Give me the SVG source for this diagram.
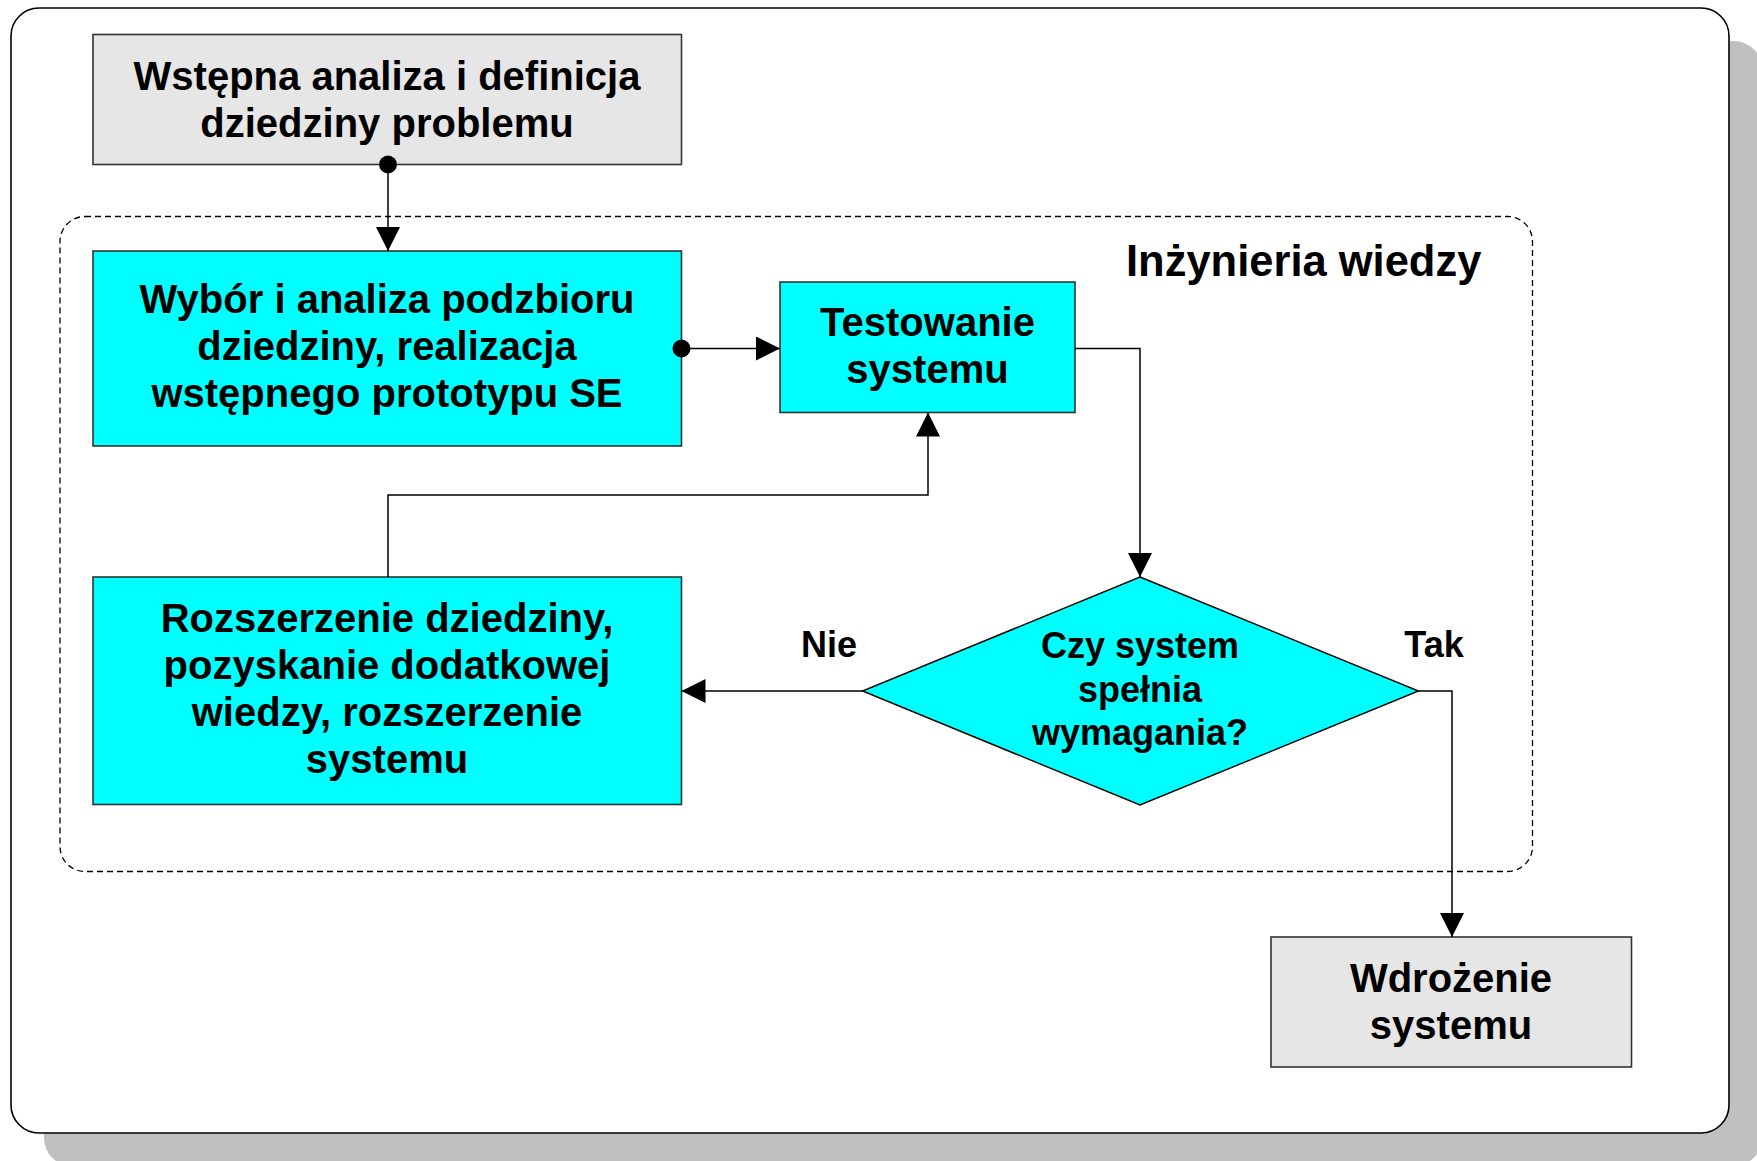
<svg xmlns="http://www.w3.org/2000/svg" width="1757" height="1161" viewBox="0 0 1757 1161">
  <style>
    .box { stroke: #333333; stroke-width: 1.6; }
    .proc { fill: #00ffff; }
    .term { fill: #e6e6e6; }
    .t40 { font-family: "Liberation Sans", Arial, sans-serif; font-weight: bold; font-size: 40px; text-anchor: middle; fill: #000; }
    .t36 { font-family: "Liberation Sans", Arial, sans-serif; font-weight: bold; font-size: 36px; text-anchor: middle; fill: #000; }
    .t43 { font-family: "Liberation Sans", Arial, sans-serif; font-weight: bold; font-size: 43.5px; fill: #000; }
    .conn { fill: none; stroke: #000; stroke-width: 1.5; }
  </style>
  <defs>
    <marker id="arrow" viewBox="0 0 24 24" refX="24" refY="12" markerWidth="24" markerHeight="24" markerUnits="userSpaceOnUse" orient="auto">
      <path d="M0,0 L24,12 L0,24 Z" fill="#000"/>
    </marker>
    <marker id="dot" viewBox="-10 -10 20 20" refX="0" refY="0" markerWidth="20" markerHeight="20" markerUnits="userSpaceOnUse" orient="auto">
      <circle cx="0" cy="0" r="9" fill="#000"/>
    </marker>
  </defs>

  <rect x="0" y="0" width="1757" height="1161" fill="#fff"/>

  <!-- page frame with drop shadow -->
  <rect x="44" y="41" width="1718" height="1125" rx="28" ry="28" fill="#c0c0c0"/>
  <rect x="11" y="8" width="1718" height="1125" rx="28" ry="28" fill="#fff" stroke="#000" stroke-width="1.6"/>

  <!-- knowledge engineering group -->
  <g id="group-inzynieria">
    <rect x="60" y="216.5" width="1472.5" height="655" rx="25" ry="25" fill="none" stroke="#000" stroke-width="1.3" stroke-dasharray="6,4"/>
    <text class="t43" x="1126" y="276">Inżynieria wiedzy</text>
  </g>

  <g id="node-wstepna">
    <rect class="box term" x="93" y="34.5" width="588.5" height="130"/>
    <text class="t40" x="387" y="89.5">Wstępna analiza i definicja</text>
    <text class="t40" x="387" y="136.5">dziedziny problemu</text>
  </g>

  <g id="node-wybor">
    <rect class="box proc" x="93" y="251" width="588.5" height="195"/>
    <text class="t40" x="387" y="313">Wybór i analiza podzbioru</text>
    <text class="t40" x="387" y="360">dziedziny, realizacja</text>
    <text class="t40" x="387" y="407">wstępnego prototypu SE</text>
  </g>

  <g id="node-testowanie">
    <rect class="box proc" x="780" y="282" width="295" height="130.5"/>
    <text class="t40" x="927.5" y="336">Testowanie</text>
    <text class="t40" x="927.5" y="383">systemu</text>
  </g>

  <g id="node-rozszerzenie">
    <rect class="box proc" x="93" y="577" width="588.5" height="227.5"/>
    <text class="t40" x="387" y="632">Rozszerzenie dziedziny,</text>
    <text class="t40" x="387" y="679">pozyskanie dodatkowej</text>
    <text class="t40" x="387" y="726">wiedzy, rozszerzenie</text>
    <text class="t40" x="387" y="773">systemu</text>
  </g>

  <g id="node-decyzja">
    <polygon points="1140,577 1418.5,691 1140,805 862.5,691" fill="#00ffff" stroke="#000" stroke-width="1.4"/>
    <text class="t36" x="1140" y="658">Czy system</text>
    <text class="t36" x="1140" y="701.5">spełnia</text>
    <text class="t36" x="1140" y="745">wymagania?</text>
  </g>

  <g id="node-wdrozenie">
    <rect class="box term" x="1271" y="937" width="360.5" height="130"/>
    <text class="t40" x="1451" y="992">Wdrożenie</text>
    <text class="t40" x="1451" y="1039">systemu</text>
  </g>

  <!-- connectors -->
  <g id="connectors">
    <path class="conn" d="M388,164.5 L388,251" marker-start="url(#dot)" marker-end="url(#arrow)"/>
    <path class="conn" d="M681.5,348.5 L780,348.5" marker-start="url(#dot)" marker-end="url(#arrow)"/>
    <path class="conn" d="M1075,348.5 L1140,348.5 L1140,577" marker-end="url(#arrow)"/>
    <path class="conn" d="M388,577 L388,495 L928,495 L928,412.5" marker-end="url(#arrow)"/>
    <path class="conn" d="M862.5,691 L681.5,691" marker-end="url(#arrow)"/>
    <path class="conn" d="M1418.5,691 L1452,691 L1452,937" marker-end="url(#arrow)"/>
    <text class="t36" x="829" y="657">Nie</text>
    <text class="t36" x="1434" y="657">Tak</text>
  </g>
</svg>
